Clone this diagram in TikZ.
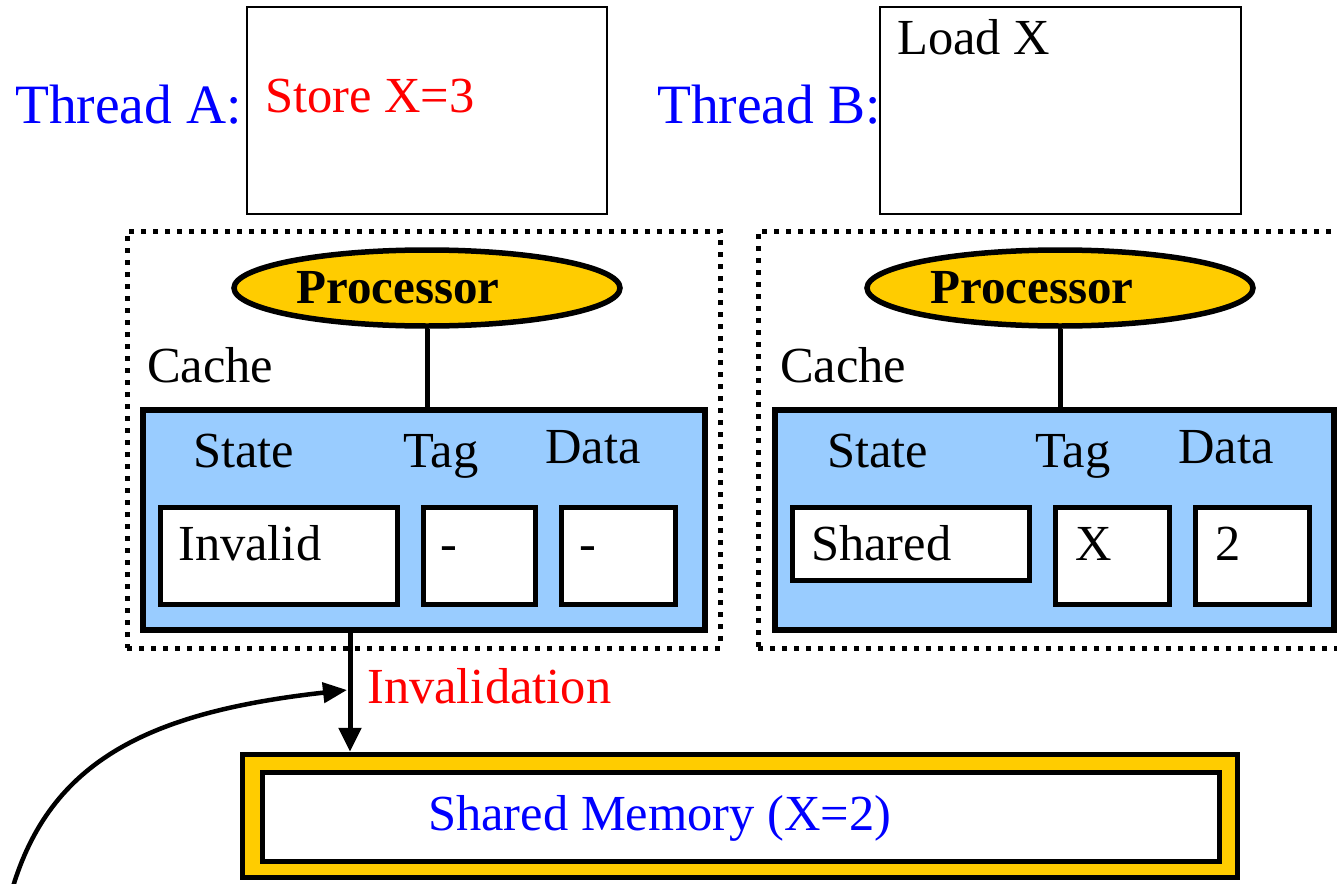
\documentclass[tikz,border=0pt]{standalone}
\usepackage{fontspec}
\setmainfont{Liberation Serif}
\usetikzlibrary{shapes.geometric,arrows.meta}
\definecolor{pblue}{HTML}{0000FF}
\definecolor{pred}{HTML}{FF0000}
\definecolor{pyel}{HTML}{FFCC00}
\definecolor{pcache}{HTML}{99CCFF}
\tikzset{
  txt/.style={inner sep=0pt, anchor=base west, font=\fontsize{50.5}{58}\selectfont},
  bigtxt/.style={inner sep=0pt, anchor=base west, font=\fontsize{55.5}{62}\selectfont},
  thinbox/.style={draw, line width=2pt, inner sep=0pt},
  dotbox/.style={draw, line width=5pt, dash pattern=on 5pt off 7pt, inner sep=0pt},
  cachebox/.style={draw, line width=5.5pt, fill=pcache, inner sep=0pt},
  cell/.style={draw, line width=5.5pt, fill=white, inner sep=0pt},
  proc/.style={ellipse, draw, line width=5.5pt, fill=pyel, inner sep=0pt,
    minimum width=386pt, minimum height=76pt},
  proctxt/.style={inner sep=0pt, anchor=base, font=\fontsize{49}{56}\selectfont\bfseries},
  conn/.style={line width=5pt},
  arr/.style={line width=5pt, -{Triangle[length=24pt,width=22pt]}},
}
\begin{document}
\begin{tikzpicture}[x=1pt,y=-1pt]
\useasboundingbox (0,0) rectangle (1337,883);
% thread boxes
\node[thinbox, minimum width=360pt, minimum height=207pt] (boxA) at (427,110.5) {};
\node[thinbox, minimum width=361pt, minimum height=207pt] (boxB) at (1060.5,110.5) {};
\node[bigtxt, text=pblue] (thA) at (15,123) {Thread A:};
\node[bigtxt, text=pblue] (thB) at (657,123) {Thread B:};
\node[txt, text=pred] (stA) at (265,112) {Store X=3};
\node[txt] (ldB) at (897,55) {Load X};
% dotted node boxes
\node[dotbox, minimum width=593pt, minimum height=417pt] (nodeA) at (423.5,439.5) {};
\node[dotbox, minimum width=600pt, minimum height=417pt] (nodeB) at (1058,439.5) {};
% processors
\node[proc] (procA) at (427,288) {};
\node[proc] (procB) at (1060,288) {};
\node[proctxt] (procAT) at (398,303) {Processor};
\node[proctxt] (procBT) at (1032,303) {Processor};
\node[txt] (cacheLA) at (147,382) {Cache};
\node[txt] (cacheLB) at (780,382) {Cache};
% cache boxes
\node[cachebox, minimum width=562pt, minimum height=220pt] (cacheA) at (424,520) {};
\node[cachebox, minimum width=559pt, minimum height=220pt] (cacheB) at (1054.5,520) {};
\draw[conn] (procA.south) -- (procA.south |- cacheA.north);
\draw[conn] (procB.south) -- (procB.south |- cacheB.north);
% headers
\node[txt] (stLA) at (193,467) {State};
\node[txt] (tgLA) at (403,467) {Tag};
\node[txt] (dtLA) at (545,463) {Data};
\node[txt] (stLB) at (827,467) {State};
\node[txt] (tgLB) at (1035,467) {Tag};
\node[txt] (dtLB) at (1178,463) {Data};
% cells A
\node[cell, minimum width=237pt, minimum height=97pt] (invA) at (279,556) {};
\node[cell, minimum width=112pt, minimum height=97pt] (tagA) at (479.5,556) {};
\node[cell, minimum width=114pt, minimum height=97pt] (datA) at (618.5,556) {};
\node[txt] (invT) at (178,560) {Invalid};
\node[txt] (tagT) at (440,560) {-};
\node[txt] (datT) at (579,560) {-};
% cells B
\node[cell, minimum width=237pt, minimum height=73pt] (shB) at (911,544) {};
\node[cell, minimum width=114pt, minimum height=97pt] (tagB) at (1112.5,556) {};
\node[cell, minimum width=114pt, minimum height=97pt] (datB) at (1252.5,556) {};
\node[txt] (shT) at (811,560) {Shared};
\node[txt] (tagBT) at (1075,560) {X};
\node[txt] (datBT) at (1215,560) {2};
% memory
\node[cell, fill=pyel, minimum width=995pt, minimum height=123pt] (memO) at (740,816) {};
\node[cell, minimum width=957pt, minimum height=89pt] (memI) at (741,817) {};
\node[txt, text=pblue] (memT) at (428,830) {Shared Memory (X=2)};
% invalidation
\coordinate (invx) at (350,0);
\draw[arr] (invx |- cacheA.south) -- (invx |- memO.north);
\node[txt, text=pred] (invL) at (367,703) {Invalidation};
% curved arrow
\coordinate (cstart) at (12,890);
\coordinate (ctip) at (347,690);
\draw[line width=4.5pt, -{Triangle[length=24pt,width=20pt]}] (cstart) .. controls (50,760) and (150,712) .. (ctip);
\end{tikzpicture}
\end{document}
